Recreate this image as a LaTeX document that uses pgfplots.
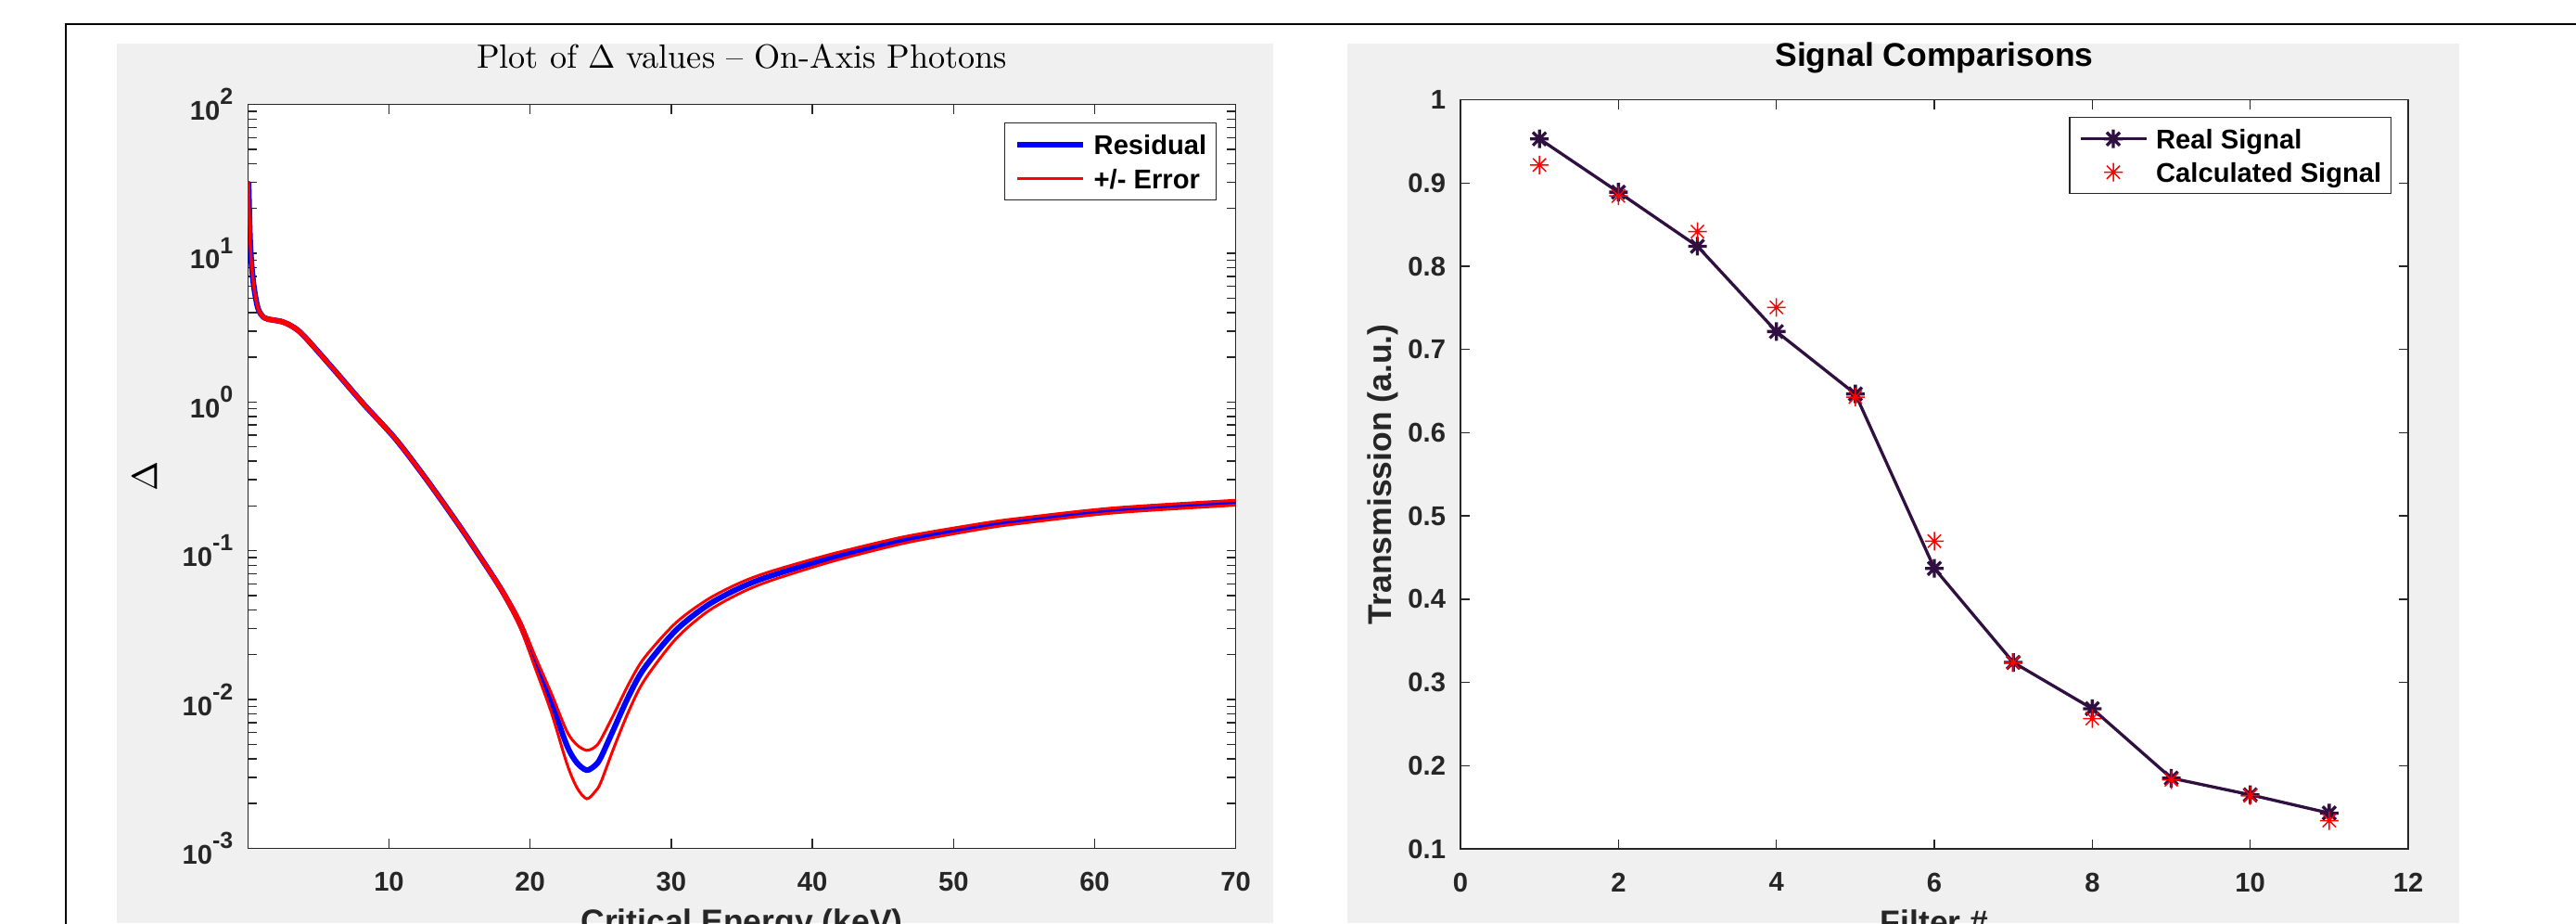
\documentclass[border=0pt]{standalone}
\usepackage{fontspec}
\usepackage{pgfplots}
\pgfplotsset{compat=1.18}
\newfontfamily\hv{Liberation Sans}
\definecolor{figgray}{HTML}{F0F0F0}
\definecolor{axgray}{HTML}{262626}
\definecolor{realsig}{RGB}{48,16,64}
\newcommand{\ex}[1]{\raisebox{4.8pt}{\fontsize{7.1}{8}\selectfont #1}}

% MATLAB style 8-armed asterisk
\pgfdeclareplotmark{mstar}{%
  \pgfpathmoveto{\pgfqpoint{0pt}{\pgfplotmarksize}}%
  \pgfpathlineto{\pgfqpoint{0pt}{-\pgfplotmarksize}}%
  \pgfpathmoveto{\pgfqpoint{\pgfplotmarksize}{0pt}}%
  \pgfpathlineto{\pgfqpoint{-\pgfplotmarksize}{0pt}}%
  \pgfpathmoveto{\pgfqpoint{.7071\pgfplotmarksize}{.7071\pgfplotmarksize}}%
  \pgfpathlineto{\pgfqpoint{-.7071\pgfplotmarksize}{-.7071\pgfplotmarksize}}%
  \pgfpathmoveto{\pgfqpoint{-.7071\pgfplotmarksize}{.7071\pgfplotmarksize}}%
  \pgfpathlineto{\pgfqpoint{.7071\pgfplotmarksize}{-.7071\pgfplotmarksize}}%
  \pgfusepathqstroke}

\pgfplotsset{mlab/.style={
  scale only axis,
  axis background/.style={fill=white},
  axis line style={axgray, line width=0.4pt},
  every tick/.style={axgray, line width=0.4pt},
  major tick length=1mm, minor tick length=1mm,
  tick align=inside,
  tick label style={font=\hv\bfseries\fontsize{8.3}{10}\selectfont, text=axgray},
  /pgf/number format/assume math mode=true,
  xticklabel style={yshift=-1.33mm},
  yticklabel style={xshift=-0.36mm},
  every axis x label/.style={at={(rel axis cs:0.5,0)}, anchor=north, yshift=-5.35mm,
    font=\hv\bfseries\fontsize{10.1}{12}\selectfont, text=axgray},
  legend cell align=left,
  legend style={at={(1,1)}, anchor=north east, draw=axgray, line width=0.4pt, fill=white,
    inner xsep=1.0mm, inner ysep=1.25mm, column sep=0.9mm,
    font=\hv\bfseries\fontsize{8.3}{10}\selectfont,
    nodes={inner sep=0pt, text height=2.1mm, text depth=0pt}},
  legend image code/.code={\draw[mark repeat=2,mark phase=2,##1]
    plot coordinates {(0mm,0mm) (3.55mm,0mm) (7.1mm,0mm)};},
}}

\begin{document}
\begin{tikzpicture}
\path[use as bounding box] (0,0) rectangle (277.8mm,99.5mm);
\clip (0,0) rectangle (277.8mm,99.5mm);
\fill[white] (0,0) rectangle (277.8mm,99.5mm);
\fill[figgray] (12.6mm,0) rectangle (137.3mm,94.8mm);
\fill[figgray] (145.3mm,0) rectangle (265.2mm,94.8mm);
\draw[line width=0.28mm] (7.1mm,-1mm) -- (7.1mm,96.9mm) -- (279mm,96.9mm);

% left: delta values
\begin{axis}[mlab,
  at={(26.73mm,8.07mm)}, anchor=south west,
  width=106.54mm, height=80.16mm,
  xmin=0, xmax=70, xtick={10,20,30,40,50,60,70},
  ymode=log, ymin=1e-3, ymax=1e2,
  ytick={1e-3,1e-2,1e-1,1,1e1,1e2},
  yticklabels={10\ex{-3},10\ex{-2},10\ex{-1},10\ex{0},10\ex{1},10\ex{2}},
  minor ytick={0.002,0.003,0.004,0.005,0.006,0.007,0.008,0.009,
    0.02,0.03,0.04,0.05,0.06,0.07,0.08,0.09,
    0.2,0.3,0.4,0.5,0.6,0.7,0.8,0.9,
    2,3,4,5,6,7,8,9,20,30,40,50,60,70,80,90},
  title={Plot of $\Delta$ values -- On-Axis Photons},
  title style={at={(rel axis cs:0.5,1)}, anchor=base, yshift=1.77mm,
    font=\fontsize{10.3}{12}\selectfont},
  xlabel={Critical Energy (keV)},
  ylabel={$\Delta$},
  every axis y label/.style={at={(rel axis cs:0,0.5)}, xshift=-11.1mm, rotate=90,
    anchor=center, font=\fontsize{10.5}{12}\selectfont},
  legend style={xshift=-2.07mm, yshift=-1.93mm, row sep=1.6mm},
]
\addplot[blue, line width=0.6mm, smooth, tension=0.5] coordinates {
 (0.05,30) (0.18,11.1) (0.4,6.25) (0.72,4.26) (1.16,3.69) (1.71,3.57) (2.37,3.48)
 (3.03,3.27) (3.9,2.83) (6.05,1.67) (8.24,0.96) (10.44,0.568) (12.63,0.304)
 (14.82,0.155) (16.36,0.094) (18.0,0.054) (19.3,0.032) (20.4,0.0175) (21.5,0.0096)
 (22.6,0.00492) (23.3,0.00377) (24.0,0.00335) (24.6,0.0036) (25.0,0.00406)
 (25.9,0.00625) (27.0,0.0106) (28.1,0.0163) (30.3,0.029) (32.5,0.0426)
 (34.7,0.0554) (36.9,0.0671) (41.3,0.0895) (45.7,0.1138) (48.2,0.127)
 (52.3,0.148) (54.7,0.159) (61.3,0.1867) (70,0.2105)};
\addlegendentry{Residual}
\addplot[red, line width=0.3mm, smooth, tension=0.5] coordinates {
 (0.05,30.6) (0.18,11.3) (0.4,6.38) (0.72,4.35) (1.16,3.76) (1.71,3.64) (2.37,3.55)
 (3.03,3.34) (3.9,2.89) (6.05,1.70) (8.24,0.979) (10.44,0.579) (12.63,0.310)
 (14.82,0.158) (16.36,0.0959) (18.0,0.0558) (19.3,0.0337) (20.4,0.0191) (21.5,0.0110)
 (22.6,0.00612) (23.3,0.00497) (24.0,0.00455) (24.6,0.0048) (25.0,0.00536)
 (25.9,0.00785) (27.0,0.0128) (28.1,0.0191) (30.3,0.0326) (32.5,0.0466)
 (34.7,0.0599) (36.9,0.0719) (41.3,0.0947) (45.7,0.1196) (48.2,0.133)
 (52.3,0.1542) (54.7,0.1655) (61.3,0.1939) (70,0.2185)};
\addlegendentry{+/- Error}
\addplot[red, line width=0.3mm, smooth, tension=0.5, forget plot] coordinates {
 (0.05,29.4) (0.18,10.9) (0.4,6.12) (0.72,4.17) (1.16,3.62) (1.71,3.50) (2.37,3.41)
 (3.03,3.20) (3.9,2.77) (6.05,1.64) (8.24,0.941) (10.44,0.557) (12.63,0.298)
 (14.82,0.152) (16.36,0.0921) (18.0,0.0522) (19.3,0.0303) (20.4,0.0159) (21.5,0.0082)
 (22.6,0.00372) (23.3,0.00257) (24.0,0.00215) (24.6,0.0024) (25.0,0.00276)
 (25.9,0.00465) (27.0,0.0084) (28.1,0.0135) (30.3,0.0254) (32.5,0.0386)
 (34.7,0.0509) (36.9,0.0623) (41.3,0.0843) (45.7,0.108) (48.2,0.121)
 (52.3,0.1418) (54.7,0.1525) (61.3,0.1795) (70,0.2025)};
\end{axis}

% right: signal comparison
\begin{axis}[mlab,
  at={(157.5mm,8.0mm)}, anchor=south west,
  width=102.2mm, height=80.75mm,
  xmin=0, xmax=12, xtick={0,2,4,6,8,10,12},
  ymin=0.1, ymax=1, ytick={0.1,0.2,0.3,0.4,0.5,0.6,0.7,0.8,0.9,1},
  title={Signal Comparisons},
  title style={at={(rel axis cs:0.5,1)}, anchor=base, yshift=1.45mm,
    font=\hv\bfseries\fontsize{10.1}{12}\selectfont},
  xlabel={Filter \#},
  ylabel={Transmission (a.u.)},
  every axis y label/.style={at={(rel axis cs:0,0.5)}, xshift=-8.4mm, rotate=90,
    anchor=center, font=\hv\bfseries\fontsize{10.1}{12}\selectfont, text=axgray},
  legend style={xshift=-1.8mm, yshift=-1.85mm, row sep=1.5mm},
]
\addplot[realsig, line width=0.33mm, mark=mstar, mark size=1mm] coordinates {
 (1,0.953) (2,0.889) (3,0.824) (4,0.7215) (5,0.6465) (6,0.437)
 (7,0.324) (8,0.2684) (9,0.185) (10,0.165) (11,0.143)};
\addlegendentry{Real Signal}
\addplot[red, only marks, line width=0.15mm, mark=mstar, mark size=1mm] coordinates {
 (1,0.9216) (2,0.8844) (3,0.8416) (4,0.7505) (5,0.6428) (6,0.4697)
 (7,0.324) (8,0.2566) (9,0.183) (10,0.164) (11,0.134)};
\addlegendentry{Calculated Signal}
\end{axis}
\end{tikzpicture}
\end{document}
